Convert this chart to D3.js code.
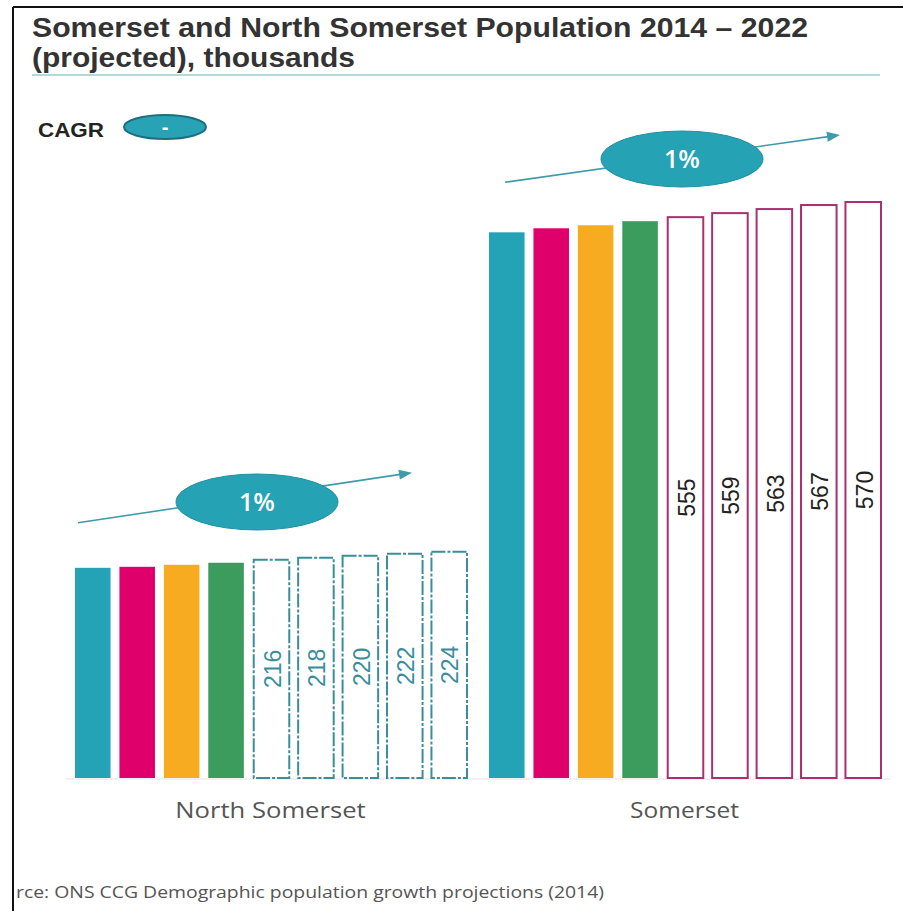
<!DOCTYPE html>
<html>
<head>
<meta charset="utf-8">
<script src="https://cdnjs.cloudflare.com/ajax/libs/d3/7.8.5/d3.min.js"></script>
<style>
  body { margin: 0; background: #fff; }
  svg { display: block; }
</style>
</head>
<body>
<script>
// population numbers, thousands
var years = ["2014", "2015", "2016", "2017", "2018", "2019", "2020", "2021", "2022"];
var groups = ["North Somerset", "Somerset"];
var northSomerset = [208, 209, 211, 213, 216, 218, 220, 222, 224];
var somerset = [540, 544, 547, 551, 555, 559, 563, 567, 570];
var cagrLabels = ["1%", "1%"];
var firstProjected = 4; // 2018 onwards is projection
var solidColors = ["#24a2b6", "#e0006c", "#f6ab21", "#3b9c5e"];

var W = 903, H = 911;
var baseY = 778;

var svg = d3.select("body").append("svg")
  .attr("width", W)
  .attr("height", H);

// frame (top + left only, the rest is cut off in the screenshot)
svg.append("line").attr("x1", 13).attr("y1", 7).attr("x2", W).attr("y2", 7)
  .attr("stroke", "#111").attr("stroke-width", 2);
svg.append("line").attr("x1", 13).attr("y1", 7).attr("x2", 13).attr("y2", H)
  .attr("stroke", "#111").attr("stroke-width", 2);

// title
var title = svg.append("text")
  .attr("x", 32)
  .attr("font-family", "Liberation Sans, Arial, sans-serif")
  .attr("font-weight", "bold")
  .attr("font-size", 27)
  .attr("fill", "#333");
title.append("tspan").attr("x", 32).attr("y", 37)
  .attr("textLength", 776).attr("lengthAdjust", "spacingAndGlyphs")
  .text("Somerset and North Somerset Population 2014 \u2013 2022");
title.append("tspan").attr("x", 32).attr("y", 67)
  .attr("textLength", 323).attr("lengthAdjust", "spacingAndGlyphs")
  .text("(projected), thousands");

svg.append("line").attr("x1", 32).attr("x2", 880).attr("y1", 75).attr("y2", 75)
  .attr("stroke", "#b3d8db").attr("stroke-width", 2);

// CAGR legend
svg.append("text")
  .attr("x", 38).attr("y", 137)
  .attr("font-family", "Liberation Sans, Arial, sans-serif")
  .attr("font-weight", "bold")
  .attr("font-size", 21)
  .attr("textLength", 66).attr("lengthAdjust", "spacingAndGlyphs")
  .attr("fill", "#222")
  .text("CAGR");
svg.append("ellipse")
  .attr("cx", 165).attr("cy", 127).attr("rx", 41).attr("ry", 12)
  .attr("fill", "#28a3b5").attr("stroke", "#1d6f80").attr("stroke-width", 2);
svg.append("text")
  .attr("x", 165).attr("y", 134)
  .attr("text-anchor", "middle")
  .attr("font-family", "Liberation Sans, Arial, sans-serif")
  .attr("font-weight", "bold")
  .attr("font-size", 20)
  .attr("fill", "#fff")
  .text("-");

// scales
var x0 = d3.scaleBand().domain(groups).range([75, 880]).paddingInner(0.0556);
var x1 = d3.scaleBand().domain(years).range([0, x0.bandwidth()]).paddingInner(0.2);
var y = d3.scaleLinear().domain([0, 570]).range([baseY, 202]);

// faint baseline
svg.append("line").attr("x1", 66).attr("x2", 890).attr("y1", baseY + 1).attr("y2", baseY + 1)
  .attr("stroke", "#e3e3e3").attr("stroke-width", 1);

var series = [
  { name: groups[0], values: northSomerset, outline: "#3a8e9b", dash: "14,2,3,2", label: "#3a8e9b", cagr: cagrLabels[0],
    a1: [3, -45], a2: [-54, -79], bub: [257, 502], txt: "#fff" },
  { name: groups[1], values: somerset, outline: "#ab2f6d", dash: null, label: "#222", cagr: cagrLabels[1],
    a1: [16, -50], a2: [-40, -67], bub: [682, 159] }
];

series.forEach(function(s) {
  var off = x0(s.name);
  var g = svg.append("g").attr("transform", "translate(" + off + ",0)");
  var bw = x1.bandwidth();

  g.selectAll("rect.bar")
    .data(s.values)
    .enter().append("rect")
    .attr("class", "bar")
    .attr("x", function(d, i) { return i < firstProjected ? x1(years[i]) : x1(years[i]) + 1; })
    .attr("y", function(d) { return y(d); })
    .attr("width", bw)
    .attr("height", function(d) { return baseY - y(d); })
    .attr("fill", function(d, i) { return i < firstProjected ? solidColors[i] : "#fff"; })
    .attr("stroke", function(d, i) { return i < firstProjected ? "none" : s.outline; })
    .attr("stroke-width", 2)
    .attr("stroke-dasharray", function(d, i) { return i < firstProjected ? null : s.dash; });

  // numbers only on projected years, rotated
  g.selectAll("text.val")
    .data(s.values.slice(firstProjected))
    .enter().append("text")
    .attr("class", "val")
    .attr("transform", function(d, i) {
      var cx = x1(years[i + firstProjected]) + bw / 2 + 2;
      var cy = (y(d) + baseY) / 2;
      return "translate(" + cx + "," + cy + ") rotate(-90)";
    })
    .attr("text-anchor", "middle")
    .attr("dy", "0.36em")
    .attr("font-family", "Liberation Sans, Arial, sans-serif")
    .attr("font-size", 23)
    .attr("fill", s.label)
    .text(function(d) { return d; });

  // group label under the bars
  g.append("text")
    .attr("x", x0.bandwidth() / 2)
    .attr("y", 818)
    .attr("text-anchor", "middle")
    .attr("font-family", "Open Sans, sans-serif")
    .attr("font-size", 22)
    .attr("textLength", s.name.length * 13.6).attr("lengthAdjust", "spacingAndGlyphs")
    .attr("fill", "#555")
    .text(s.name);

  // growth arrow + bubble, hung off the first and last bar
  var first = s.values[0], last = s.values[s.values.length - 1];
  var ax1 = x1(years[0]) + s.a1[0], ay1 = y(first) + s.a1[1];
  var ax2 = x1(years[years.length - 1]) + bw + s.a2[0], ay2 = y(last) + s.a2[1];
  var ang = Math.atan2(ay2 - ay1, ax2 - ax1);
  g.append("line")
    .attr("x1", ax1).attr("y1", ay1)
    .attr("x2", ax2 - 10 * Math.cos(ang)).attr("y2", ay2 - 10 * Math.sin(ang))
    .attr("stroke", "#3f9aab").attr("stroke-width", 1.6);
  var hx = ax2, hy = ay2;
  var pts = [
    [hx, hy],
    [hx - 13 * Math.cos(ang) + 5 * Math.sin(ang), hy - 13 * Math.sin(ang) - 5 * Math.cos(ang)],
    [hx - 13 * Math.cos(ang) - 5 * Math.sin(ang), hy - 13 * Math.sin(ang) + 5 * Math.cos(ang)]
  ];
  g.append("path").attr("d", "M" + pts.join("L") + "Z").attr("fill", "#3f9aab");

  var ex = s.bub[0] - off, ey = s.bub[1];
  g.append("ellipse")
    .attr("cx", ex).attr("cy", ey).attr("rx", 81).attr("ry", 28)
    .attr("fill", "#25a2b4").attr("stroke", "#1f8fa1").attr("stroke-width", 1);
  g.append("text")
    .attr("x", ex).attr("y", ey + 9)
    .attr("text-anchor", "middle")
    .attr("font-family", "Open Sans, sans-serif")
    .attr("font-weight", "600")
    .attr("font-size", 25)
    .attr("fill", "#fff")
    .text(s.cagr);
});

// source, cut off at the left in the original
svg.append("text")
  .attr("x", 16).attr("y", 898)
  .attr("font-family", "Open Sans, sans-serif")
  .attr("font-size", 17)
  .attr("textLength", 588).attr("lengthAdjust", "spacingAndGlyphs")
  .attr("fill", "#555")
  .text("rce: ONS CCG Demographic population growth projections (2014)");
</script>
</body>
</html>
